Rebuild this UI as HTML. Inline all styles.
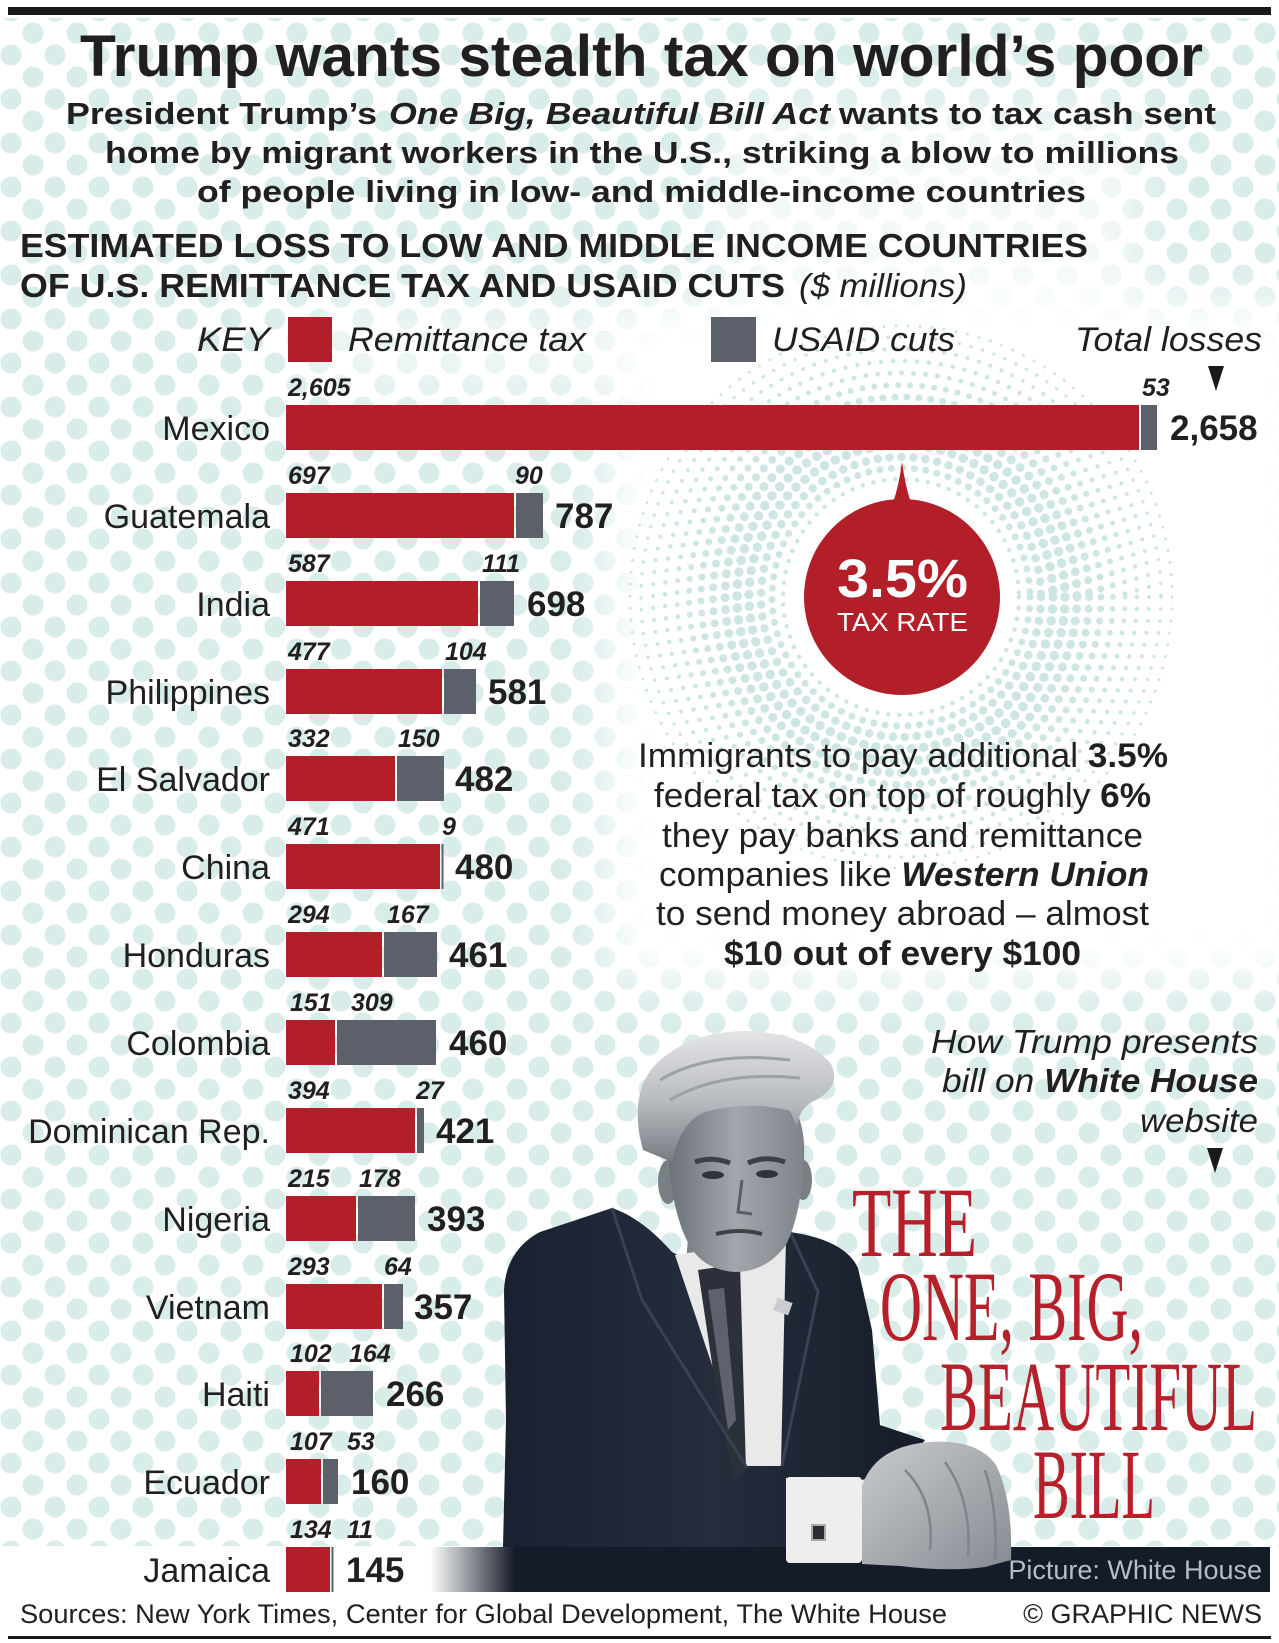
<!DOCTYPE html>
<html><head><meta charset="utf-8"><style>
html,body{margin:0;padding:0;background:#fff;}
svg{display:block;}
text{font-family:"Liberation Sans",Arial,sans-serif;fill:#221f20;}
.serif{font-family:"Liberation Serif","Times New Roman",serif;}
</style></head><body>
<svg width="1279" height="1643" viewBox="0 0 1279 1643" xmlns="http://www.w3.org/2000/svg">
<defs>
<pattern id="dots" width="44" height="44" patternUnits="userSpaceOnUse">
<circle cx="11" cy="11" r="10.5" fill="#d8ecea"/>
<circle cx="33" cy="33" r="10.5" fill="#d8ecea"/>
</pattern>
<filter id="blur" x="-20%" y="-20%" width="140%" height="140%"><feGaussianBlur stdDeviation="25"/></filter>
<mask id="dm" maskUnits="userSpaceOnUse" x="0" y="0" width="1279" height="1643">
<rect x="0" y="0" width="1279" height="1643" fill="#fff"/>
<g filter="url(#blur)">
<rect x="610" y="300" width="700" height="680" fill="#000"/>
<rect x="720" y="110" width="420" height="190" fill="#000" opacity="0.7"/>
<rect x="300" y="300" width="300" height="100" fill="#000" opacity="0.5"/>
</g>
</mask>
<linearGradient id="bandG" x1="430" y1="0" x2="515" y2="0" gradientUnits="userSpaceOnUse">
<stop offset="0" stop-color="#141b29" stop-opacity="0"/><stop offset="1" stop-color="#141b29"/>
</linearGradient>
<linearGradient id="faceG" x1="0" y1="0" x2="1" y2="0">
<stop offset="0" stop-color="#6c7178"/><stop offset="0.5" stop-color="#a3a6ab"/><stop offset="1" stop-color="#7f848a"/>
</linearGradient>
<linearGradient id="hairG" x1="0" y1="0" x2="0" y2="1">
<stop offset="0" stop-color="#e4e5e7"/><stop offset="0.55" stop-color="#b7babe"/><stop offset="1" stop-color="#767b82"/>
</linearGradient>
<linearGradient id="handG" x1="0" y1="0" x2="1" y2="1">
<stop offset="0" stop-color="#c9cbce"/><stop offset="1" stop-color="#878b91"/>
</linearGradient>
<linearGradient id="suitG" x1="0" y1="0" x2="1" y2="0">
<stop offset="0" stop-color="#1a2130"/><stop offset="0.5" stop-color="#252d3c"/><stop offset="1" stop-color="#161c29"/>
</linearGradient>
</defs>

<rect x="0" y="0" width="1279" height="1643" fill="#fff"/>
<!-- background halftone dots -->
<rect x="0" y="18" width="1279" height="1528" fill="url(#dots)" mask="url(#dm)"/>

<!-- radial halftone rings -->
<g fill="none" stroke="#cde5e3" stroke-linecap="round">
<circle cx="901" cy="597" r="118" stroke-width="4.5" stroke-dasharray="0 11"/>
<circle cx="901" cy="597" r="129" stroke-width="7" stroke-dasharray="0 11.5"/>
<circle cx="901" cy="597" r="140" stroke-width="8.5" stroke-dasharray="0 12"/>
<circle cx="901" cy="597" r="152" stroke-width="9.5" stroke-dasharray="0 12"/>
<circle cx="901" cy="597" r="164" stroke-width="9.5" stroke-dasharray="0 12"/>
<circle cx="901" cy="597" r="176" stroke-width="9" stroke-dasharray="0 12"/>
<circle cx="901" cy="597" r="188" stroke-width="8" stroke-dasharray="0 12"/>
<circle cx="901" cy="597" r="200" stroke-width="7" stroke-dasharray="0 12"/>
<circle cx="901" cy="597" r="212" stroke-width="6" stroke-dasharray="0 12"/>
<circle cx="901" cy="597" r="224" stroke-width="5" stroke-dasharray="0 12"/>
<circle cx="901" cy="597" r="236" stroke-width="4.5" stroke-dasharray="0 12"/>
<circle cx="901" cy="597" r="248" stroke-width="4" stroke-dasharray="0 12"/>
<circle cx="901" cy="597" r="260" stroke-width="3.5" stroke-dasharray="0 12"/>
<circle cx="901" cy="597" r="271" stroke-width="3" stroke-dasharray="0 12"/>
</g>

<!-- top rule -->
<rect x="8" y="7" width="1263" height="8" fill="#1a1a1a"/>

<!-- Title -->
<text x="80" y="76" font-size="58" font-weight="bold" textLength="1123" lengthAdjust="spacingAndGlyphs">Trump wants stealth tax on world’s poor</text>

<!-- Subtitle -->
<text x="66" y="124" font-size="31" font-weight="bold" textLength="311" lengthAdjust="spacingAndGlyphs">President Trump’s</text>
<text x="389" y="124" font-size="31" font-weight="bold" font-style="italic" textLength="441" lengthAdjust="spacingAndGlyphs">One Big, Beautiful Bill Act</text>
<text x="839" y="124" font-size="31" font-weight="bold" textLength="377" lengthAdjust="spacingAndGlyphs">wants to tax cash sent</text>
<text x="105" y="163" font-size="31" font-weight="bold" textLength="1074" lengthAdjust="spacingAndGlyphs">home by migrant workers in the U.S., striking a blow to millions</text>
<text x="197" y="202" font-size="31" font-weight="bold" textLength="889" lengthAdjust="spacingAndGlyphs">of people living in low- and middle-income countries</text>

<!-- Section heading -->
<text x="20" y="257" font-size="33" font-weight="bold" textLength="1068" lengthAdjust="spacingAndGlyphs">ESTIMATED LOSS TO LOW AND MIDDLE INCOME COUNTRIES</text>
<text x="20" y="297" font-size="33" font-weight="bold" textLength="765" lengthAdjust="spacingAndGlyphs">OF U.S. REMITTANCE TAX AND USAID CUTS</text>
<text x="799" y="297" font-size="33" font-style="italic" textLength="168" lengthAdjust="spacingAndGlyphs">($ millions)</text>

<!-- Key -->
<text x="197" y="351" font-size="34" font-style="italic" textLength="73" lengthAdjust="spacingAndGlyphs">KEY</text>
<rect x="288" y="317" width="44" height="45" fill="#b21f28"/>
<text x="348" y="351" font-size="34" font-style="italic" textLength="238" lengthAdjust="spacingAndGlyphs">Remittance tax</text>
<rect x="711" y="317" width="45" height="45" fill="#5c606b"/>
<text x="772" y="351" font-size="34" font-style="italic" textLength="183" lengthAdjust="spacingAndGlyphs">USAID cuts</text>
<text x="1075" y="351" font-size="34" font-style="italic" textLength="187" lengthAdjust="spacingAndGlyphs">Total losses</text>
<polygon points="1208,366 1224,366 1216,391" fill="#1a1a1a"/>

<!-- Bars -->
<g>
<rect x="286" y="405" width="853" height="45" fill="#b21f28"/>
<rect x="1141" y="405" width="16" height="45" fill="#5c606b"/>
<rect x="286" y="493" width="228" height="45" fill="#b21f28"/>
<rect x="516" y="493" width="27" height="45" fill="#5c606b"/>
<rect x="286" y="581" width="192" height="45" fill="#b21f28"/>
<rect x="480" y="581" width="34" height="45" fill="#5c606b"/>
<rect x="286" y="669" width="156" height="45" fill="#b21f28"/>
<rect x="444" y="669" width="32" height="45" fill="#5c606b"/>
<rect x="286" y="756" width="109" height="45" fill="#b21f28"/>
<rect x="397" y="756" width="47" height="45" fill="#5c606b"/>
<rect x="286" y="844" width="154" height="45" fill="#b21f28"/>
<rect x="441.5" y="844" width="2" height="45" fill="#5c606b"/>
<rect x="286" y="932" width="96" height="45" fill="#b21f28"/>
<rect x="384" y="932" width="53" height="45" fill="#5c606b"/>
<rect x="286" y="1020" width="49" height="45" fill="#b21f28"/>
<rect x="337" y="1020" width="99" height="45" fill="#5c606b"/>
<rect x="286" y="1108" width="129" height="45" fill="#b21f28"/>
<rect x="417" y="1108" width="7" height="45" fill="#5c606b"/>
<rect x="286" y="1196" width="70" height="45" fill="#b21f28"/>
<rect x="358" y="1196" width="57" height="45" fill="#5c606b"/>
<rect x="286" y="1284" width="96" height="45" fill="#b21f28"/>
<rect x="384" y="1284" width="19" height="45" fill="#5c606b"/>
<rect x="286" y="1371" width="33" height="45" fill="#b21f28"/>
<rect x="321" y="1371" width="52" height="45" fill="#5c606b"/>
<rect x="286" y="1459" width="35" height="45" fill="#b21f28"/>
<rect x="323" y="1459" width="15" height="45" fill="#5c606b"/>
<rect x="286" y="1547" width="44" height="45" fill="#b21f28"/>
<rect x="331.5" y="1547" width="2" height="45" fill="#5c606b"/>
</g>

<!-- Country labels -->
<g font-size="34" text-anchor="end">
<text x="270" y="440">Mexico</text>
<text x="270" y="528">Guatemala</text>
<text x="270" y="616">India</text>
<text x="270" y="704">Philippines</text>
<text x="270" y="791">El Salvador</text>
<text x="270" y="879">China</text>
<text x="270" y="967">Honduras</text>
<text x="270" y="1055">Colombia</text>
<text x="270" y="1143">Dominican Rep.</text>
<text x="270" y="1231">Nigeria</text>
<text x="270" y="1319">Vietnam</text>
<text x="270" y="1406">Haiti</text>
<text x="270" y="1494">Ecuador</text>
<text x="270" y="1582">Jamaica</text>
</g>

<!-- small values -->
<g font-size="25" font-weight="bold" font-style="italic">
<text x="288" y="396">2,605</text><text x="1142" y="396">53</text>
<text x="288" y="484">697</text><text x="515" y="484">90</text>
<text x="288" y="572">587</text><text x="482" y="572">111</text>
<text x="288" y="660">477</text><text x="445" y="660">104</text>
<text x="288" y="747">332</text><text x="398" y="747">150</text>
<text x="288" y="835">471</text><text x="442" y="835">9</text>
<text x="288" y="923">294</text><text x="387" y="923">167</text>
<text x="290" y="1011">151</text><text x="351" y="1011">309</text>
<text x="288" y="1099">394</text><text x="416" y="1099">27</text>
<text x="288" y="1187">215</text><text x="359" y="1187">178</text>
<text x="288" y="1275">293</text><text x="384" y="1275">64</text>
<text x="290" y="1362">102</text><text x="349" y="1362">164</text>
<text x="290" y="1450">107</text><text x="347" y="1450">53</text>
<text x="290" y="1538">134</text><text x="347" y="1538">11</text>
</g>

<!-- totals -->
<g font-size="35" font-weight="bold">
<text x="1170" y="440">2,658</text>
<text x="555" y="528">787</text>
<text x="527" y="616">698</text>
<text x="488" y="704">581</text>
<text x="455" y="791">482</text>
<text x="455" y="879">480</text>
<text x="449" y="967">461</text>
<text x="449" y="1055">460</text>
<text x="436" y="1143">421</text>
<text x="427" y="1231">393</text>
<text x="414" y="1319">357</text>
<text x="386" y="1406">266</text>
<text x="351" y="1494">160</text>
<text x="346" y="1582">145</text>
</g>

<!-- Tax rate bubble -->
<path d="M893,503 Q899,485 902,462 Q905,485 911,503 Z" fill="#b21f28"/>
<circle cx="902" cy="597" r="98" fill="#b21f28"/>
<text x="837" y="597" font-size="54" font-weight="bold" style="fill:#fff" textLength="131" lengthAdjust="spacingAndGlyphs">3.5%</text>
<text x="837" y="631" font-size="26" style="fill:#fff" textLength="131" lengthAdjust="spacingAndGlyphs">TAX RATE</text>

<!-- Paragraph -->
<g font-size="34">
<text x="638" y="767" textLength="530" lengthAdjust="spacingAndGlyphs">Immigrants to pay additional <tspan font-weight="bold">3.5%</tspan></text>
<text x="654" y="807" textLength="497" lengthAdjust="spacingAndGlyphs">federal tax on top of roughly <tspan font-weight="bold">6%</tspan></text>
<text x="662" y="847" textLength="481" lengthAdjust="spacingAndGlyphs">they pay banks and remittance</text>
<text x="659" y="886" textLength="490" lengthAdjust="spacingAndGlyphs">companies like <tspan font-weight="bold" font-style="italic">Western Union</tspan></text>
<text x="656" y="925" textLength="493" lengthAdjust="spacingAndGlyphs">to send money abroad – almost</text>
<text x="724" y="965" font-weight="bold" textLength="357" lengthAdjust="spacingAndGlyphs">$10 out of every $100</text>
</g>

<!-- How Trump presents -->
<g font-size="33" font-style="italic">
<text x="931" y="1053" textLength="327" lengthAdjust="spacingAndGlyphs">How Trump presents</text>
<text x="942" y="1092" textLength="316" lengthAdjust="spacingAndGlyphs">bill on <tspan font-weight="bold">White House</tspan></text>
<text x="1140" y="1132" textLength="118" lengthAdjust="spacingAndGlyphs">website</text>
</g>
<polygon points="1207,1148 1223,1148 1215,1173" fill="#1a1a1a"/>

<!-- Picture band -->
<rect x="430" y="1547" width="840" height="45" fill="url(#bandG)"/>

<!-- Trump figure (stylised) -->
<g>
<path d="M688,1238 L788,1236 L792,1262 L686,1264 Z" fill="#7e838a"/>
<path d="M503,1547 L506,1420 L504,1290 Q506,1250 540,1232 L612,1208 Q642,1218 672,1252 L692,1262 L765,1255 L790,1232 Q845,1240 858,1268 L872,1330 L880,1425 L925,1440 L905,1468 L862,1480 L786,1478 L786,1547 Z" fill="url(#suitG)"/>
<path d="M675,1255 L786,1238 L781,1466 L746,1466 Z" fill="#e9e9ea"/>
<path d="M698,1270 L740,1264 L746,1470 L734,1482 L716,1390 Z" fill="#2b303a"/>
<path d="M708,1290 L724,1288 L736,1420 L728,1430 Z" fill="#5d636d"/>
<path d="M612,1208 L642,1300 L747,1468" stroke="#3a4252" stroke-width="3" fill="none"/>
<path d="M790,1232 L818,1292 L782,1466" stroke="#3a4252" stroke-width="3" fill="none"/>
<rect x="775" y="1300" width="16" height="13" fill="#c9ccd1" transform="rotate(20 783 1306)"/>
<ellipse cx="668" cy="1182" rx="10" ry="22" fill="#7a7f86"/>
<ellipse cx="803" cy="1180" rx="9" ry="20" fill="#7a7f86"/>
<path d="M668,1150 Q668,1112 700,1104 L790,1104 Q806,1120 804,1160 Q801,1215 786,1245 Q766,1272 735,1272 Q704,1270 690,1246 Q672,1216 668,1150 Z" fill="url(#faceG)"/>
<path d="M695,1162 Q712,1156 730,1163" stroke="#3c4048" stroke-width="5" fill="none"/>
<path d="M748,1163 Q766,1155 785,1162" stroke="#3c4048" stroke-width="5" fill="none"/>
<ellipse cx="713" cy="1175" rx="11" ry="4" fill="#2f333a"/>
<ellipse cx="767" cy="1174" rx="11" ry="4" fill="#2f333a"/>
<path d="M742,1180 L738,1212 L752,1214" stroke="#5a5f66" stroke-width="3" fill="none"/>
<path d="M716,1234 Q740,1228 762,1234" stroke="#3c4048" stroke-width="4" fill="none"/>
<path d="M643,1150 Q628,1095 655,1065 Q690,1030 750,1031 Q806,1034 831,1064 Q842,1086 816,1100 Q800,1106 797,1126 L790,1111 Q750,1100 705,1112 Q680,1122 672,1162 Z" fill="url(#hairG)"/>
<path d="M660,1080 Q710,1050 790,1060 M670,1100 Q720,1070 800,1078" stroke="#9da1a6" stroke-width="3" fill="none"/>
<rect x="786" y="1477" width="76" height="86" rx="4" fill="#eeeeef"/>
<rect x="812" y="1525" width="13" height="15" fill="#2a2d33" stroke="#aaa" stroke-width="2"/>
<path d="M862,1486 Q874,1450 920,1443 Q975,1436 996,1465 Q1013,1500 1011,1560 L985,1567 Q950,1572 900,1566 L862,1564 Z" fill="url(#handG)"/>
<path d="M905,1470 Q935,1500 930,1550 M945,1462 Q972,1500 968,1556 M985,1470 Q998,1510 995,1560" stroke="#80858b" stroke-width="2.5" fill="none"/>
</g>

<text x="1262" y="1579" font-size="27" text-anchor="end" style="fill:#b8bcc4">Picture: White House</text>

<!-- THE ONE, BIG, BEAUTIFUL BILL -->
<g class="serif" font-size="100">
<text class="serif" x="852" y="1256" textLength="125" lengthAdjust="spacingAndGlyphs" style="fill:#b5202a">THE</text>
<text class="serif" x="880" y="1340" textLength="263" lengthAdjust="spacingAndGlyphs" style="fill:#b5202a">ONE, BIG,</text>
<text class="serif" x="940" y="1430" textLength="317" lengthAdjust="spacingAndGlyphs" style="fill:#b5202a">BEAUTIFUL</text>
<text class="serif" x="1033" y="1518" textLength="122" lengthAdjust="spacingAndGlyphs" style="fill:#b5202a">BILL</text>
</g>

<!-- Footer -->
<text x="20" y="1623" font-size="27" textLength="927" lengthAdjust="spacingAndGlyphs">Sources: New York Times, Center for Global Development, The White House</text>
<text x="1262" y="1623" font-size="27" text-anchor="end">© GRAPHIC NEWS</text>
<rect x="8" y="1636" width="1263" height="3" fill="#1a1a1a"/>
</svg>
</body></html>
